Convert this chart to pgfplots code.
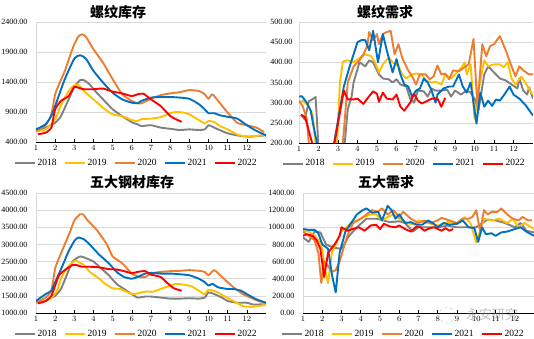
\documentclass[border=0pt]{standalone}
\usepackage{pgfplots}
\pgfplotsset{compat=1.18}
\usepackage{fontspec}
\setmainfont{Liberation Serif}
\newfontfamily\cjk{Noto Sans CJK SC}
\definecolor{c18}{RGB}{128,128,128}
\definecolor{c19}{RGB}{255,192,0}
\definecolor{c20}{RGB}{237,125,49}
\definecolor{c21}{RGB}{0,112,192}
\definecolor{c22}{RGB}{255,0,0}
\definecolor{gridc}{RGB}{217,217,217}
\pgfplotsset{
  panel/.style={
    scale only axis, anchor=south west,
    xmin=1, xmax=13, xtick={1,...,12},
    axis lines*=left,
    x axis line style={black, line width=0.8pt},
    y axis line style={gridc, line width=0.8pt},
    ymajorgrids, grid style={gridc, line width=0.6pt},
    tick align=inside, major tick length=3pt,
    x tick style={black, line width=0.6pt},
    ytick style={draw=none},
    xticklabel style={font=\fontsize{8.5}{9}\selectfont},
    yticklabel style={font=\fontsize{8}{9}\selectfont, /tikz/xshift=-5pt,
      /pgf/number format/fixed, /pgf/number format/fixed zerofill, /pgf/number format/precision=2, /pgf/number format/1000 sep={}, /pgf/number format/assume math mode=true},
    every axis plot/.append style={line width=1.9pt, line join=round, no markers},
    legend columns=5,
    legend style={draw=none, fill=none, font=\fontsize{9.5}{10}\selectfont, anchor=center,
      /tikz/every even column/.append style={column sep=5pt}},
    legend image code/.code={\draw[#1, line width=2pt] (0pt,0pt) -- (20pt,0pt);},
  },
  sm/.style={every axis plot/.append style={smooth, tension=0.35}}
}
\begin{document}
\begin{tikzpicture}
\path[use as bounding box] (0,0) rectangle (534pt,339pt);
% ---------------- TL: rebar inventory
\begin{axis}[panel, sm, at={(36pt,197pt)}, width=230pt, height=120pt,
  ymin=400, ymax=2400, ytick={400,900,1400,1900,2400},
  legend style={at={(0.435,-0.175)}}]
\addplot[c18] coordinates {(1,582)(1.5,640)(2,720)(2.3,830)(2.7,1110)(3,1320)(3.3,1430)(3.5,1430)(3.8,1360)(4,1280)(4.5,1110)(5,945)(5.5,830)(6,730)(6.3,695)(6.5,665)(7,680)(7.5,640)(8,620)(8.5,600)(9,610)(9.5,600)(9.8,610)(10,680)(10.2,655)(10.5,610)(11,545)(11.5,510)(12,490)(12.3,490)(12.5,500)(13,510)};
\addplot[c19] coordinates {(1,580)(1.5,610)(2,780)(2.3,1010)(2.7,1250)(3,1345)(3.2,1355)(3.5,1250)(4,1110)(4.5,970)(5,860)(5.5,830)(6,765)(6.3,750)(6.5,780)(7,790)(7.5,815)(8,880)(8.3,900)(8.7,890)(9,860)(9.5,765)(9.8,710)(10,750)(10.3,735)(10.6,665)(11,610)(11.5,525)(12,490)(12.5,500)(13,525)};
\addplot[c20] coordinates {(1,580)(1.5,680)(1.8,860)(2,1195)(2.2,1360)(2.5,1580)(2.8,1860)(3,2030)(3.2,2155)(3.4,2195)(3.6,2155)(4,1945)(4.5,1720)(5,1445)(5.5,1195)(6,1085)(6.3,1045)(6.5,1045)(7,1120)(7.5,1180)(8,1210)(8.5,1230)(9,1265)(9.5,1250)(9.8,1195)(10,1120)(10.2,1195)(10.5,1085)(11,890)(11.5,720)(12,680)(12.5,640)(12.9,565)};
\addplot[c21] coordinates {(1,610)(1.5,695)(1.8,835)(2,1000)(2.5,1445)(3,1790)(3.3,1845)(3.6,1790)(4,1585)(4.5,1390)(5,1220)(5.5,1110)(6,1055)(6.3,1045)(6.5,1085)(7,1140)(7.5,1150)(8,1150)(8.5,1140)(9,1120)(9.5,1030)(9.8,945)(10,880)(10.3,880)(10.6,845)(11,820)(11.5,790)(12,680)(12.5,585)(13,510)};
\addplot[c22] coordinates {(1.1,530)(1.5,555)(1.8,640)(2,945)(2.3,1085)(2.7,1165)(3,1320)(3.2,1305)(3.5,1280)(4,1280)(4.5,1290)(5,1240)(5.5,1210)(6,1165)(6.3,1195)(6.6,1205)(7,1110)(7.5,1000)(8,835)(8.3,780)(8.6,735)};
\legend{2018,2019,2020,2021,2022}
\end{axis}
% ---------------- TR: rebar demand
\begin{axis}[panel, at={(299pt,196pt)}, width=234pt, height=121pt,
  ymin=200, ymax=500, ytick={200,250,...,500},
  yticklabel style={/tikz/xshift=2pt},
  legend style={at={(0.449,-0.17)}}]
\addplot[c18] coordinates {(1.1,270)(1.3,258)(1.5,303)(1.7,309)(1.85,314)(2.05,150)(2.3,50)(3.0,50)(3.25,150)(3.5,283)(3.7,316)(3.8,350)(4.1,400)(4.4,390)(4.6,405)(4.8,400)(5.1,370)(5.3,360)(5.6,358)(5.8,350)(6,358)(6.2,345)(6.5,340)(6.7,310)(6.9,300)(7.1,330)(7.4,328)(7.6,315)(7.8,335)(8,330)(8.3,330)(8.6,332)(8.8,315)(9,330)(9.3,320)(9.6,330)(9.8,325)(10,310)(10.2,280)(10.5,370)(10.7,390)(11,375)(11.3,360)(11.6,355)(11.9,345)(12.2,335)(12.3,360)(12.5,330)(12.7,320)(12.8,338)(13,310)};
\addplot[c19] coordinates {(1,300)(1.2,305)(1.5,290)(1.7,270)(1.85,200)(2.1,80)(2.7,80)(2.95,200)(3.1,350)(3.25,402)(3.5,405)(3.8,400)(4.1,410)(4.4,420)(4.7,415)(4.9,400)(5.1,375)(5.3,395)(5.6,412)(5.8,400)(6.1,390)(6.3,370)(6.5,360)(6.8,370)(7.0,372)(7.3,370)(7.5,355)(7.8,350)(8.0,352)(8.3,345)(8.5,370)(8.8,360)(9.0,370)(9.3,385)(9.5,400)(9.6,370)(9.8,395)(10.0,260)(10.2,330)(10.5,405)(10.7,390)(11,395)(11.3,395)(11.5,388)(11.7,400)(11.9,360)(12.1,345)(12.4,365)(12.6,350)(12.9,325)(13,320)};
\addplot[c20] coordinates {(1,305)(1.2,290)(1.4,260)(1.5,200)(1.8,80)(3.0,80)(3.25,200)(3.5,350)(3.8,390)(4.1,405)(4.3,420)(4.5,440)(4.6,475)(4.8,455)(5.0,470)(5.1,445)(5.3,470)(5.5,475)(5.7,478)(5.9,420)(6.1,445)(6.3,410)(6.6,380)(6.8,365)(7.0,345)(7.2,370)(7.5,370)(7.7,358)(7.9,365)(8.1,392)(8.3,370)(8.5,372)(8.7,358)(8.9,380)(9.2,378)(9.4,385)(9.7,395)(9.95,458)(10.15,290)(10.4,445)(10.6,415)(10.8,440)(11.0,445)(11.3,465)(11.6,430)(11.9,390)(12.1,365)(12.3,390)(12.5,380)(12.8,370)(13,370)};
\addplot[c21] coordinates {(1,315)(1.15,316)(1.4,300)(1.6,280)(1.75,240)(1.92,200)(2.2,80)(2.6,80)(2.8,200)(3.3,340)(3.6,390)(4.0,450)(4.2,455)(4.4,455)(4.6,430)(4.8,478)(5.05,400)(5.3,470)(5.5,430)(5.8,375)(6.0,408)(6.2,370)(6.4,345)(6.6,340)(6.8,315)(7.0,330)(7.2,335)(7.4,360)(7.6,350)(7.8,330)(8.0,300)(8.1,320)(8.4,335)(8.7,340)(8.9,340)(9.2,370)(9.4,340)(9.6,325)(9.8,350)(10.1,248)(10.3,325)(10.5,290)(10.7,305)(10.9,292)(11.1,308)(11.3,305)(11.5,318)(11.8,340)(12.0,320)(12.3,310)(12.6,295)(13,268)};
\addplot[c22] coordinates {(1.1,270)(1.3,265)(1.45,240)(1.67,200)(1.9,80)(2.6,80)(2.82,200)(3.3,330)(3.5,308)(3.8,308)(4.0,310)(4.3,297)(4.5,310)(4.8,328)(5.0,322)(5.1,302)(5.3,325)(5.5,310)(5.8,308)(6.0,320)(6.2,290)(6.4,280)(6.7,300)(6.9,322)(7.1,305)(7.3,298)(7.6,305)(7.8,310)(8.1,310)(8.3,290)(8.5,312)};
\legend{2018,2019,2020,2021,2022}
\end{axis}
% ---------------- BL: five major steel inventory
\begin{axis}[panel, sm, at={(36pt,26pt)}, width=230pt, height=120pt,
  ymin=1000, ymax=4500, ytick={1000,1500,...,4500},
  legend style={at={(0.435,-0.175)}}]
\addplot[c18] coordinates {(1,1300)(1.5,1350)(1.8,1450)(2,1500)(2.3,1700)(2.6,2100)(2.9,2500)(3.3,2650)(3.6,2600)(4,2500)(4.4,2300)(4.8,2100)(5.2,1850)(5.6,1700)(6,1550)(6.3,1450)(6.7,1480)(7,1480)(7.5,1450)(8,1420)(8.5,1420)(9,1430)(9.5,1420)(9.8,1450)(10,1600)(10.3,1550)(10.7,1450)(11,1350)(11.5,1300)(12,1300)(12.3,1250)(12.7,1250)(13,1250)};
\addplot[c19] coordinates {(1,1300)(1.5,1350)(1.8,1450)(2.1,1650)(2.3,2000)(2.6,2300)(2.9,2480)(3.1,2520)(3.5,2400)(3.8,2200)(4.3,2000)(4.6,1850)(5,1720)(5.4,1700)(5.8,1600)(6.1,1550)(6.5,1600)(6.8,1630)(7.1,1620)(7.5,1700)(7.9,1780)(8.3,1850)(8.8,1820)(9.1,1780)(9.5,1650)(9.8,1550)(10,1680)(10.4,1620)(10.8,1500)(11.3,1350)(11.8,1200)(12.2,1180)(12.6,1200)(13,1250)};
\addplot[c20] coordinates {(1,1300)(1.5,1450)(1.8,1650)(2,2300)(2.2,2600)(2.5,3000)(2.8,3400)(3,3700)(3.3,3880)(3.45,3880)(3.7,3700)(4.2,3400)(4.7,3000)(5,2650)(5.5,2450)(6,2150)(6.4,2050)(6.7,2050)(7,2150)(7.5,2200)(8,2220)(8.5,2230)(9,2250)(9.5,2230)(9.8,2200)(10,2100)(10.3,2250)(10.8,2000)(11.3,1750)(11.8,1550)(12.2,1450)(12.6,1350)(13,1300)};
\addplot[c21] coordinates {(1,1350)(1.5,1550)(1.8,1650)(2,1900)(2.4,2400)(2.7,2800)(3,3100)(3.2,3200)(3.5,3150)(3.8,3000)(4.3,2700)(4.8,2450)(5.2,2200)(5.6,2050)(6,2000)(6.3,2050)(6.7,2150)(7,2170)(7.5,2150)(8,2150)(8.5,2130)(9,2100)(9.5,2000)(9.8,1900)(10,1800)(10.2,1850)(10.5,1750)(11,1700)(11.3,1700)(11.7,1650)(12,1550)(12.5,1400)(13,1300)};
\addplot[c22] coordinates {(1.1,1280)(1.5,1350)(1.8,1500)(2,1800)(2.2,2100)(2.5,2250)(2.9,2400)(3.1,2400)(3.4,2350)(3.8,2350)(4.3,2330)(4.8,2280)(5.2,2270)(5.6,2220)(6,2160)(6.3,2200)(6.7,2220)(7,2120)(7.5,2050)(7.9,1850)(8.2,1720)(8.6,1650)};
\legend{2018,2019,2020,2021,2022}
\end{axis}
% ---------------- BR: five major demand
\begin{axis}[panel, at={(303pt,26pt)}, width=231pt, height=120pt,
  ymin=0, ymax=1400, ytick={0,200,...,1400},
  legend style={at={(0.433,-0.175)}}]
\addplot[c18] coordinates {(1,880)(1.3,830)(1.6,950)(1.9,940)(2.2,800)(2.6,760)(3,750)(3.4,900)(3.8,1000)(4.3,1100)(4.8,1100)(5,1090)(5.5,1060)(6,1070)(6.3,1050)(6.7,950)(7,1000)(7.5,1000)(8,1000)(8.5,1020)(9,1000)(9.5,1000)(10,1000)(10.3,1050)(10.6,1090)(11,1080)(11.5,1050)(12,1000)(12.3,1050)(12.6,960)(13,940)};
\addplot[c19] coordinates {(1,960)(1.3,950)(1.6,900)(1.8,850)(2,750)(2.15,500)(2.3,350)(2.5,700)(2.8,850)(3,950)(3.5,1050)(4,1100)(4.5,1150)(4.8,1150)(5.1,1080)(5.4,1120)(5.7,1150)(6,1100)(6.4,1050)(6.8,1030)(7,1080)(7.5,1050)(8,1020)(8.5,1060)(9,1050)(9.4,1120)(9.7,1050)(10,820)(10.4,1100)(10.8,1080)(11.2,1100)(11.6,1050)(11.9,1100)(12.2,1000)(12.5,1050)(13,980)};
\addplot[c20] coordinates {(1,950)(1.3,900)(1.6,850)(1.8,700)(1.95,350)(2.1,600)(2.3,550)(2.5,480)(2.7,500)(2.9,600)(3.1,750)(3.3,900)(3.6,1050)(4,1100)(4.3,1150)(4.6,1200)(4.9,1180)(5.1,1220)(5.4,1150)(5.7,1200)(6,1120)(6.2,1180)(6.6,1100)(7,1050)(7.3,1080)(7.6,1050)(8,1080)(8.2,1110)(8.6,1080)(9,1050)(9.3,1100)(9.6,1100)(9.8,1120)(10,1200)(10.2,950)(10.4,1200)(10.6,1150)(10.8,1180)(11.1,1180)(11.3,1220)(11.6,1150)(11.9,1100)(12.2,1080)(12.4,1120)(12.7,1080)(12.9,1080)};
\addplot[c21] coordinates {(1,980)(1.3,970)(1.6,970)(1.8,930)(2,800)(2.3,750)(2.5,450)(2.7,240)(2.9,700)(3.2,950)(3.5,1050)(3.8,1150)(4.1,1200)(4.3,1220)(4.6,1170)(4.9,1180)(5.1,1080)(5.4,1250)(5.6,1200)(5.8,1100)(6,1150)(6.3,1050)(6.6,1060)(6.9,1030)(7.2,1030)(7.5,1080)(7.8,1040)(8,1000)(8.3,1050)(8.6,1030)(9,1040)(9.3,1080)(9.6,1000)(9.9,990)(10.1,830)(10.3,1000)(10.5,920)(10.8,930)(11,900)(11.3,940)(11.6,950)(12,980)(12.3,1000)(12.6,950)(13,900)};
\addplot[c22] coordinates {(1,900)(1.2,920)(1.5,900)(1.7,850)(1.9,750)(2.1,420)(2.3,700)(2.5,760)(2.7,820)(2.9,900)(3,1000)(3.3,960)(3.6,980)(3.9,1000)(4.2,960)(4.5,1020)(4.8,1030)(5,980)(5.2,1040)(5.5,1010)(5.8,1000)(6,1020)(6.3,980)(6.6,950)(6.9,1010)(7.1,1000)(7.3,960)(7.6,990)(7.8,1000)(8,980)(8.2,960)(8.4,990)(8.6,960)(8.8,980)};
\legend{2018,2019,2020,2021,2022}
\end{axis}
% titles
\node at (118pt,327pt) {\cjk\fontsize{14}{16}\selectfont\bfseries 螺纹库存};
\node at (385pt,327pt) {\cjk\fontsize{14}{16}\selectfont\bfseries 螺纹需求};
\node at (132pt,157pt) {\cjk\fontsize{14}{16}\selectfont\bfseries 五大钢材库存};
\node at (386pt,157pt) {\cjk\fontsize{14}{16}\selectfont\bfseries 五大需求};
% watermark
\node[text=gray, opacity=0.5] at (492pt,24pt) {\cjk\fontsize{13}{15}\selectfont 永安研究};
\draw[gray, opacity=0.4, line width=0.6pt, dashed] (447pt,24pt) circle (8pt);
\end{tikzpicture}
\end{document}
